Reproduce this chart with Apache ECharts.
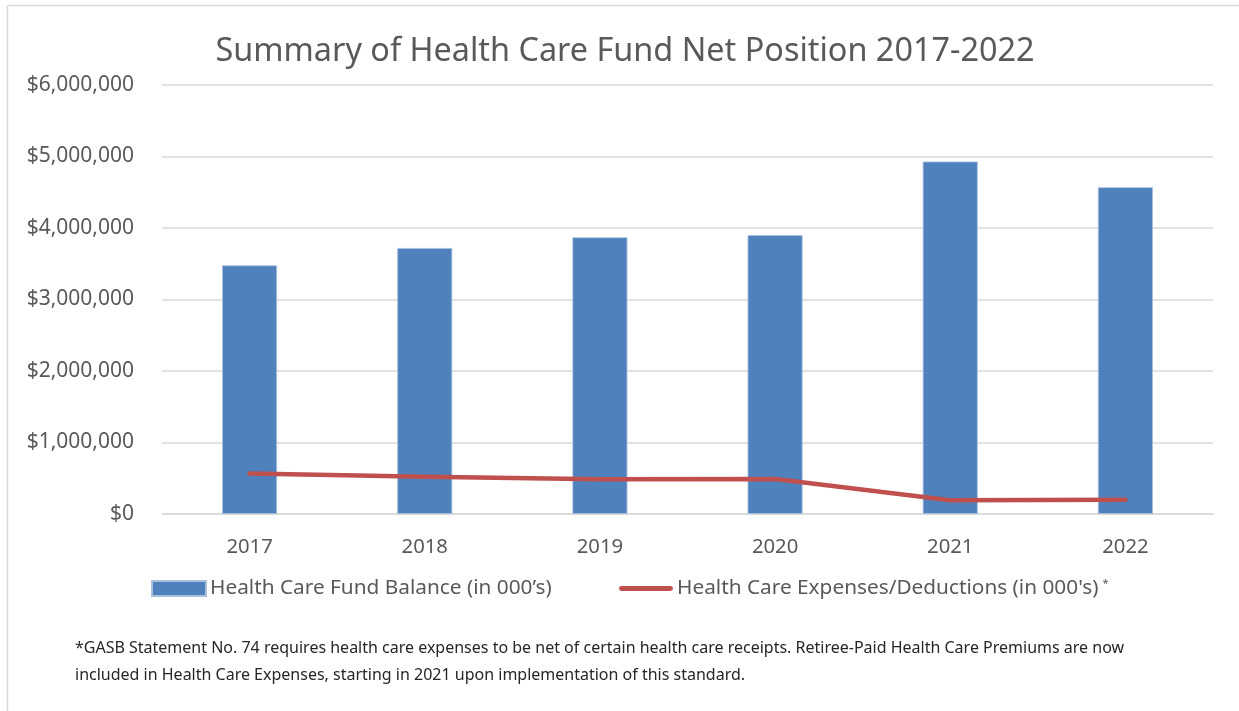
<!DOCTYPE html>
<html>
<head>
<meta charset="utf-8">
<script src="https://cdn.jsdelivr.net/npm/echarts@6/dist/echarts.min.js"></script>
<style>
  html, body { margin: 0; padding: 0; background: #ffffff; }
  #chart { width: 1239px; height: 711px; }
</style>
</head>
<body>
<div id="chart"></div>
<script>
const categories = ['2017', '2018', '2019', '2020', '2021', '2022'];
const fundBalance = [3478000, 3720000, 3870000, 3900000, 4930000, 4570000];
const expenses = [565000, 520000, 485000, 490000, 192000, 200000];
const yTicks = { min: 0, max: 6000000, interval: 1000000 };
const titleText = 'Summary of Health Care Fund Net Position 2017-2022';
const barName = 'Health Care Fund Balance (in 000\u2019s)';
const lineName = "Health Care Expenses/Deductions (in 000's)";
const footnote = [
  '*GASB Statement No. 74 requires health care expenses to be net of certain health care receipts. Retiree-Paid Health Care Premiums are now',
  'included in Health Care Expenses, starting in 2021 upon implementation of this standard.'
];

const FONT = '"Noto Sans", sans-serif';
const GREY = '#595959';

const chart = echarts.init(document.getElementById('chart'), null, { renderer: 'canvas' });
chart.setOption({
  backgroundColor: '#ffffff',
  animation: false,
  title: {
    text: titleText,
    left: 620, textAlign: 'center',
    top: 31,
    textStyle: { fontFamily: FONT, fontSize: 32.4, fontWeight: 'normal', color: GREY }
  },
  grid: { left: 162, right: 26, top: 85, bottom: 197, containLabel: false },
  legend: [
    {
      data: [{ name: barName, icon: 'rect' }],
      left: 151, top: 578, padding: 0,
      itemWidth: 54, itemHeight: 15,
      textStyle: { fontFamily: FONT, fontSize: 20.8, color: GREY, padding: [0, 0, 0, -1] }
    },
    {
      data: [{ name: lineName, icon: 'path://M2,0 L52,0 A2.5,2.5 0 0 1 52,5 L2,5 A2.5,2.5 0 0 1 2,0 Z' }],
      left: 619, top: 578, padding: 0,
      itemWidth: 54, itemHeight: 5,
      formatter: n => n + '{s|*}',
      textStyle: {
        fontFamily: FONT, fontSize: 20.8, color: GREY, padding: [0, 0, 0, -1],
        rich: { s: { fontFamily: FONT, fontSize: 11, color: GREY, verticalAlign: 'top', padding: [0, 0, 8, 4] } }
      }
    }
  ],
  xAxis: {
    type: 'category',
    data: categories,
    axisLine: { lineStyle: { color: '#d9d9d9', width: 1.5 } },
    axisTick: { show: false },
    axisLabel: { fontFamily: FONT, fontSize: 20.3, color: GREY, margin: 23 }
  },
  yAxis: {
    type: 'value',
    min: yTicks.min, max: yTicks.max, interval: yTicks.interval,
    axisLine: { show: false },
    axisTick: { show: false },
    splitLine: { lineStyle: { color: '#d9d9d9', width: 1.5 } },
    axisLabel: {
      fontFamily: FONT, fontSize: 21, color: GREY, margin: 28,
      formatter: v => '$' + v.toLocaleString('en-US')
    }
  },
  series: [
    {
      name: barName,
      type: 'bar',
      data: fundBalance,
      barWidth: 55,
      itemStyle: { color: '#4f81bd', borderColor: '#a9c0df', borderWidth: 0.8 }
    },
    {
      name: lineName,
      type: 'line',
      data: expenses,
      symbol: 'none',
      lineStyle: { color: '#c0504d', width: 4.5, cap: 'round', join: 'round' },
      itemStyle: { color: '#c0504d' }
    }
  ],
  graphic: [
    { type: 'line', shape: { x1: 7.5, y1: 5.5, x2: 1239, y2: 5.5 }, style: { stroke: '#d9d9d9', lineWidth: 1.5 } },
    { type: 'line', shape: { x1: 7.5, y1: 5.5, x2: 7.5, y2: 711 }, style: { stroke: '#d9d9d9', lineWidth: 1.5 } },
    {
      type: 'text', left: 75, top: 635,
      style: { text: footnote.join('\n'), fontFamily: FONT, fontSize: 16, lineHeight: 27, fill: '#262626' }
    }
  ]
});
</script>
</body>
</html>
